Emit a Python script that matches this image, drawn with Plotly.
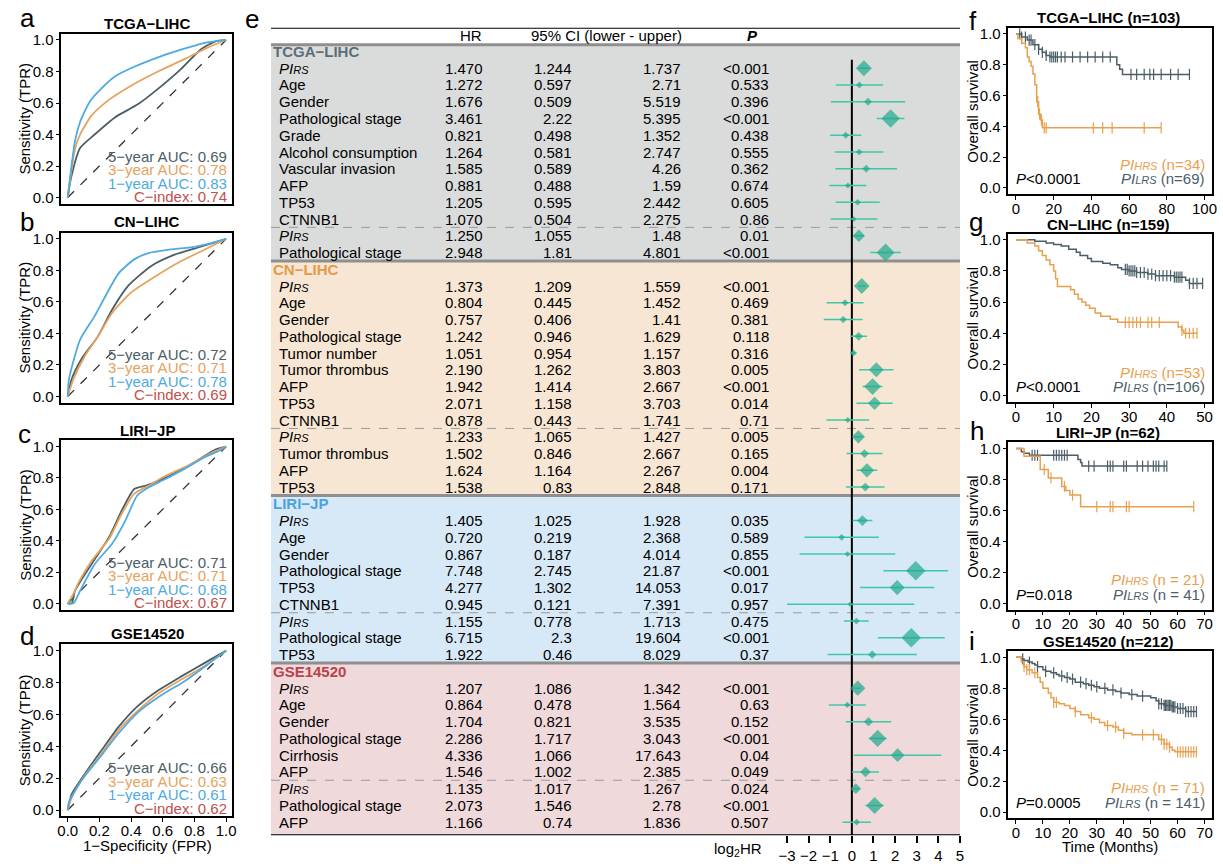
import numpy as np
import plotly.graph_objects as go

W, H = 1223, 864
FONT = "Arial, 'Liberation Sans', Helvetica, sans-serif"

C_5Y, C_3Y, C_1Y, C_CI = "#4b5d66", "#e5a35e", "#4eaae0", "#c0504d"
C_HRS, C_LRS = "#e8a04f", "#4b5e68"
TEAL, TEAL_L = "#1fa88b", "#3fc8a6"

# ---------------- ROC data ----------------
roc_titles = ["TCGA−LIHC", "CN−LIHC", "LIRI−JP", "GSE14520"]
roc_auc_5y = [0.69, 0.72, 0.71, 0.66]
roc_auc_3y = [0.78, 0.71, 0.71, 0.63]
roc_auc_1y = [0.83, 0.78, 0.68, 0.61]
roc_cindex = [0.74, 0.69, 0.67, 0.62]

a_5y_fpr = [0, 0.02, 0.078, 0.17, 0.30, 0.44, 0.57, 0.72, 0.84, 0.93, 1.0]
a_5y_tpr = [0, 0.12, 0.314, 0.40, 0.51, 0.59, 0.69, 0.82, 0.94, 0.99, 1.0]
a_3y_fpr = [0, 0.046, 0.078, 0.15, 0.26, 0.40, 0.57, 0.74, 0.88, 1.0]
a_3y_tpr = [0, 0.31, 0.40, 0.52, 0.62, 0.71, 0.80, 0.88, 0.95, 1.0]
a_1y_fpr = [0, 0.046, 0.078, 0.14, 0.21, 0.30, 0.42, 0.57, 0.72, 0.86, 1.0]
a_1y_tpr = [0, 0.36, 0.48, 0.61, 0.69, 0.77, 0.83, 0.89, 0.94, 0.98, 1.0]

b_5y_fpr = [0, 0.025, 0.088, 0.19, 0.28, 0.38, 0.53, 0.675, 0.84, 1.0]
b_5y_tpr = [0, 0.11, 0.24, 0.38, 0.55, 0.70, 0.83, 0.90, 0.95, 1.0]
b_3y_fpr = [0, 0.036, 0.11, 0.19, 0.28, 0.40, 0.55, 0.70, 0.84, 1.0]
b_3y_tpr = [0, 0.11, 0.26, 0.38, 0.53, 0.66, 0.76, 0.85, 0.92, 1.0]
b_1y_fpr = [0, 0.008, 0.078, 0.17, 0.32, 0.42, 0.51, 0.63, 0.80, 0.93, 1.0]
b_1y_tpr = [0, 0.11, 0.36, 0.51, 0.78, 0.87, 0.91, 0.93, 0.95, 0.98, 1.0]

c_5y_fpr = [0, 0.025, 0.046, 0.15, 0.26, 0.34, 0.42, 0.49, 0.57, 0.675, 0.80, 0.93, 1.0]
c_5y_tpr = [0, 0.0, 0.08, 0.25, 0.42, 0.59, 0.73, 0.75, 0.78, 0.83, 0.90, 0.98, 1.0]
c_3y_fpr = [0, 0.036, 0.067, 0.15, 0.26, 0.34, 0.42, 0.51, 0.61, 0.76, 0.91, 1.0]
c_3y_tpr = [0, 0.06, 0.13, 0.27, 0.41, 0.57, 0.70, 0.75, 0.81, 0.88, 0.96, 1.0]
c_1y_fpr = [0, 0.036, 0.078, 0.17, 0.28, 0.36, 0.44, 0.51, 0.61, 0.74, 0.88, 0.97, 1.0]
c_1y_tpr = [0, 0.0, 0.08, 0.25, 0.38, 0.52, 0.69, 0.74, 0.79, 0.86, 0.94, 0.98, 1.0]

d_5y_fpr = [0, 0.025, 0.11, 0.21, 0.32, 0.44, 0.57, 0.72, 0.86, 1.0]
d_5y_tpr = [0, 0.10, 0.23, 0.37, 0.52, 0.65, 0.75, 0.84, 0.92, 1.0]
d_3y_fpr = [0, 0.025, 0.11, 0.21, 0.32, 0.44, 0.57, 0.72, 0.86, 1.0]
d_3y_tpr = [0, 0.08, 0.22, 0.35, 0.50, 0.62, 0.73, 0.82, 0.90, 1.0]
d_1y_fpr = [0, 0.008, 0.09, 0.21, 0.32, 0.44, 0.59, 0.74, 0.88, 1.0]
d_1y_tpr = [0, 0.05, 0.19, 0.34, 0.48, 0.61, 0.72, 0.81, 0.91, 1.0]

# ---------------- Forest data ----------------
forest_sections = ["TCGA−LIHC", "CN−LIHC", "LIRI−JP", "GSE14520"]

tcga_var = ["PIRS", "Age", "Gender", "Pathological stage", "Grade", "Alcohol consumption",
            "Vascular invasion", "AFP", "TP53", "CTNNB1", "PIRS", "Pathological stage"]
tcga_hr = ["1.470", "1.272", "1.676", "3.461", "0.821", "1.264", "1.585", "0.881", "1.205", "1.070", "1.250", "2.948"]
tcga_lo = ["1.244", "0.597", "0.509", "2.22", "0.498", "0.581", "0.589", "0.488", "0.595", "0.504", "1.055", "1.81"]
tcga_hi = ["1.737", "2.71", "5.519", "5.395", "1.352", "2.747", "4.26", "1.59", "2.442", "2.275", "1.48", "4.801"]
tcga_p = ["<0.001", "0.533", "0.396", "<0.001", "0.438", "0.555", "0.362", "0.674", "0.605", "0.86", "0.01", "<0.001"]
tcga_n_uni = 10

cn_var = ["PIRS", "Age", "Gender", "Pathological stage", "Tumor number", "Tumor thrombus", "AFP", "TP53", "CTNNB1",
          "PIRS", "Tumor thrombus", "AFP", "TP53"]
cn_hr = ["1.373", "0.804", "0.757", "1.242", "1.051", "2.190", "1.942", "2.071", "0.878", "1.233", "1.502", "1.624", "1.538"]
cn_lo = ["1.209", "0.445", "0.406", "0.946", "0.954", "1.262", "1.414", "1.158", "0.443", "1.065", "0.846", "1.164", "0.83"]
cn_hi = ["1.559", "1.452", "1.41", "1.629", "1.157", "3.803", "2.667", "3.703", "1.741", "1.427", "2.667", "2.267", "2.848"]
cn_p = ["<0.001", "0.469", "0.381", "0.118", "0.316", "0.005", "<0.001", "0.014", "0.71", "0.005", "0.165", "0.004", "0.171"]
cn_n_uni = 9

liri_var = ["PIRS", "Age", "Gender", "Pathological stage", "TP53", "CTNNB1", "PIRS", "Pathological stage", "TP53"]
liri_hr = ["1.405", "0.720", "0.867", "7.748", "4.277", "0.945", "1.155", "6.715", "1.922"]
liri_lo = ["1.025", "0.219", "0.187", "2.745", "1.302", "0.121", "0.778", "2.3", "0.46"]
liri_hi = ["1.928", "2.368", "4.014", "21.87", "14.053", "7.391", "1.713", "19.604", "8.029"]
liri_p = ["0.035", "0.589", "0.855", "<0.001", "0.017", "0.957", "0.475", "<0.001", "0.37"]
liri_n_uni = 6

gse_var = ["PIRS", "Age", "Gender", "Pathological stage", "Cirrhosis", "AFP", "PIRS", "Pathological stage", "AFP"]
gse_hr = ["1.207", "0.864", "1.704", "2.286", "4.336", "1.546", "1.135", "2.073", "1.166"]
gse_lo = ["1.086", "0.478", "0.821", "1.717", "1.066", "1.002", "1.017", "1.546", "0.74"]
gse_hi = ["1.342", "1.564", "3.535", "3.043", "17.643", "2.385", "1.267", "2.78", "1.836"]
gse_p = ["<0.001", "0.63", "0.152", "<0.001", "0.04", "0.049", "0.024", "<0.001", "0.507"]
gse_n_uni = 6

# ---------------- KM data ----------------
km_titles = ["TCGA−LIHC (n=103)", "CN−LIHC (n=159)", "LIRI−JP (n=62)", "GSE14520 (n=212)"]
km_pvals = ["&lt;0.0001", "&lt;0.0001", "=0.018", "=0.0005"]
km_hrs_n = ["(n=34)", "(n=53)", "(n = 21)", "(n = 71)"]
km_lrs_n = ["(n=69)", "(n=106)", "(n = 41)", "(n = 141)"]

f_lrs_t = [0, 3, 6, 9, 12, 14, 16, 18, 53.5, 55, 56.5, 92]
f_lrs_s = [1.0, 0.98, 0.96, 0.93, 0.90, 0.88, 0.86, 0.85, 0.80, 0.77, 0.737, 0.737]
f_lrs_c = [2, 3, 5, 7, 8, 10, 12, 14, 16, 18, 19, 20, 21, 22, 24, 26, 30, 34, 38, 42, 46, 50,
           61, 64, 68, 71, 73, 77, 82, 86, 92]
f_hrs_t = [0, 1, 3, 5, 6, 7, 8, 9, 10, 11, 12, 13, 14, 77]
f_hrs_s = [1.0, 0.97, 0.94, 0.91, 0.85, 0.82, 0.79, 0.74, 0.67, 0.56, 0.48, 0.44, 0.39, 0.39]
f_hrs_c = [11.5, 12.5, 13.5, 15, 16, 41, 46, 51, 68, 77]

g_lrs_t = [0, 5, 8, 10, 12, 14, 16, 17, 19, 20, 23, 25, 27, 28, 30, 32, 35, 37, 42, 45, 46, 49.5]
g_lrs_s = [1.0, 0.99, 0.98, 0.97, 0.96, 0.94, 0.92, 0.90, 0.88, 0.86, 0.85, 0.84, 0.82, 0.81, 0.80,
           0.79, 0.78, 0.77, 0.76, 0.74, 0.72, 0.72]
g_lrs_c = [29, 29.5, 30, 30.5, 31, 31.5, 32, 33, 34, 35, 36, 37, 38, 39, 40, 41, 42, 42.5, 43, 43.5,
           44, 46, 47, 48, 49.5]
g_hrs_t = [0, 3, 5, 6, 7, 8, 9, 10, 10.5, 11, 14.5, 15.5, 16.5, 17.5, 18.5, 19.5, 21, 22.5, 25, 27, 43, 44, 44.5, 48]
g_hrs_s = [1.0, 0.98, 0.96, 0.93, 0.90, 0.87, 0.84, 0.80, 0.75, 0.70, 0.68, 0.65, 0.62, 0.60, 0.58,
           0.56, 0.53, 0.51, 0.49, 0.47, 0.44, 0.42, 0.40, 0.40]
g_hrs_c = [29, 30, 31, 32, 33, 35, 36, 38, 44, 45, 46, 47, 48]

h_lrs_t = [0, 2, 3, 5, 23, 24, 24.5, 56]
h_lrs_s = [1.0, 0.98, 0.97, 0.957, 0.93, 0.91, 0.887, 0.887]
h_lrs_c = [6, 7, 8, 14, 15, 16, 17, 18, 19, 27, 29, 34, 35, 36, 40, 41, 45, 47, 49, 51, 52, 53, 55, 56]
h_hrs_t = [0, 3, 9, 12, 17, 18.5, 20, 24, 66]
h_hrs_s = [1.0, 0.95, 0.865, 0.81, 0.755, 0.73, 0.70, 0.625, 0.625]
h_hrs_c = [10.5, 13, 18, 21, 30, 35, 36, 41, 42, 66]

i_lrs_t = [0, 2, 3, 4.5, 6, 7, 8, 10, 11, 13, 15, 16, 18, 20, 22, 25, 27, 29, 31, 34, 37, 39, 42, 45,
           50, 52, 53, 55, 58, 60, 63, 67]
i_lrs_s = [1.0, 0.99, 0.98, 0.97, 0.96, 0.95, 0.94, 0.92, 0.91, 0.90, 0.89, 0.88, 0.87, 0.86, 0.84,
           0.83, 0.82, 0.81, 0.80, 0.79, 0.78, 0.77, 0.76, 0.75, 0.74, 0.72, 0.70, 0.69, 0.68, 0.67,
           0.65, 0.65]
i_lrs_c = [2.5, 5, 8, 11, 14, 17, 19, 21, 24, 26, 28, 30, 33, 36, 39, 43, 47, 53, 54, 55, 55.5, 56,
           56.5, 57, 57.5, 58, 58.5, 59, 60, 61, 62, 63, 64, 65, 66, 67]
i_hrs_t = [0, 2, 3, 4, 6, 8, 9, 10, 12, 13, 14, 16, 18, 20, 22, 24, 27, 29, 31, 33, 36, 38, 40, 43,
           53, 55, 57, 58, 59, 67]
i_hrs_s = [1.0, 0.97, 0.94, 0.92, 0.90, 0.87, 0.84, 0.80, 0.77, 0.74, 0.71, 0.70, 0.69, 0.67, 0.65,
           0.63, 0.61, 0.60, 0.58, 0.56, 0.55, 0.53, 0.51, 0.50, 0.47, 0.44, 0.42, 0.40, 0.39, 0.39]
i_hrs_c = [3, 4, 5, 7, 14, 15, 22, 28, 34, 37, 40, 47, 51, 54, 55, 56, 57, 60, 61, 62, 63, 64, 65, 66, 67]

# =====================================================================
def X(px):
    return px / W


def Y(py):
    return 1 - py / H


fig = go.Figure()
annotations = []
shapes = []
layout = dict(width=W, height=H, margin=dict(l=0, r=0, t=0, b=0), paper_bgcolor="white",
              plot_bgcolor="rgba(0,0,0,0)", showlegend=False,
              font=dict(family=FONT, size=15, color="black"))


def ann(text, x, y, xref="paper", yref="paper", size=15, color="black", xanchor="center",
        yanchor="middle", textangle=0):
    annotations.append(dict(text=text, x=x, y=y, xref=xref, yref=yref, showarrow=False,
                            font=dict(size=size, color=color, family=FONT), xanchor=xanchor,
                            yanchor=yanchor, textangle=textangle, borderpad=0))


def axname(i):
    return ("x", "y") if i == 1 else (f"x{i}", f"y{i}")


def box_axis(**kw):
    d = dict(showline=True, mirror=True, linecolor="black", linewidth=1.5, showgrid=False,
             zeroline=False, ticklen=4, tickwidth=1.2, tickcolor="black", tickfont=dict(size=15))
    d.update(kw)
    return d


# panel letters
letters = [("a", 10, 15), ("b", 10, 221), ("c", 8, 436), ("d", 10, 640), ("e", 238, 16),
           ("f", 970, 18), ("g", 970, 221), ("h", 971, 432), ("i", 970, 645)]
for t, px, py in letters:
    ann(t, X(px), Y(py), size=26, xanchor="left")

# ---------------- ROC panels ----------------
roc_data = [
    (a_5y_fpr, a_5y_tpr, a_3y_fpr, a_3y_tpr, a_1y_fpr, a_1y_tpr),
    (b_5y_fpr, b_5y_tpr, b_3y_fpr, b_3y_tpr, b_1y_fpr, b_1y_tpr),
    (c_5y_fpr, c_5y_tpr, c_3y_fpr, c_3y_tpr, c_1y_fpr, c_1y_tpr),
    (d_5y_fpr, d_5y_tpr, d_3y_fpr, d_3y_tpr, d_1y_fpr, d_1y_tpr),
]
roc_dom_y = [(31, 203), (232, 404), (442, 613), (648, 822)]
roc_title_y = [21, 221, 432, 637]
roc_text_y = [155, 355, 565, 773]
ticks01 = [0, 0.2, 0.4, 0.6, 0.8, 1.0]
tick01_txt = ["0.0", "0.2", "0.4", "0.6", "0.8", "1.0"]

for k in range(4):
    idx = k + 1
    xa, ya = axname(idx)
    f5, t5, f3, t3, f1, t1 = roc_data[k]
    fig.add_trace(go.Scatter(x=[0, 1], y=[0, 1], mode="lines", xaxis=xa, yaxis=ya,
                             line=dict(color="#333333", width=1.3, dash="dash")))
    for fx, ty, col in [(f5, t5, C_5Y), (f3, t3, C_3Y), (f1, t1, C_1Y)]:
        fig.add_trace(go.Scatter(x=fx, y=ty, mode="lines", xaxis=xa, yaxis=ya,
                                 line=dict(color=col, width=1.8, shape="spline", smoothing=0.6)))
    top, bot = roc_dom_y[k]
    layout["xaxis" if idx == 1 else f"xaxis{idx}"] = box_axis(
        domain=[X(53), X(226)], range=[-0.04, 1.04], anchor=ya, tickvals=ticks01, ticktext=tick01_txt,
        ticks="outside" if k == 3 else "", showticklabels=(k == 3), ticklabelstandoff=-4)
    layout["yaxis" if idx == 1 else f"yaxis{idx}"] = box_axis(
        domain=[Y(bot), Y(top)], range=[-0.04, 1.04], anchor=xa, tickvals=ticks01, ticktext=tick01_txt,
        ticks="outside", ticklabelstandoff=-1)
    ann(f"<b>{roc_titles[k]}</b>", X(140), Y(roc_title_y[k]))
    ann("Sensitivity (TPR)", X(16), Y((top + bot) / 2), textangle=-90)
    lines = [(f"5−year AUC: {roc_auc_5y[k]:.2f}", C_5Y), (f"3−year AUC: {roc_auc_3y[k]:.2f}", C_3Y),
             (f"1−year AUC: {roc_auc_1y[k]:.2f}", C_1Y), (f"C−index: {roc_cindex[k]:.2f}", C_CI)]
    for j, (txt, col) in enumerate(lines):
        ann(txt, X(222), Y(roc_text_y[k] + j * 13.6), color=col, xanchor="right")
ann("1−Specificity (FPR)", X(140), Y(851))

# ---------------- Forest panel ----------------
ROW0, ROWH = 49, 16.93

r_top = (25 - ROW0) / ROWH
r_bot = (841 - ROW0) / ROWH
FX0, FX1 = 265, 962
section_colors = ["#5b6e78", "#e39a4a", "#4aa3df", "#b8434b"]
section_bg = ["#dadcdc", "#f7e6d3", "#d7e9f7", "#efd9db"]
sec_data = [
    (tcga_var, tcga_hr, tcga_lo, tcga_hi, tcga_p, tcga_n_uni),
    (cn_var, cn_hr, cn_lo, cn_hi, cn_p, cn_n_uni),
    (liri_var, liri_hr, liri_lo, liri_hi, liri_p, liri_n_uni),
    (gse_var, gse_hr, gse_lo, gse_hi, gse_p, gse_n_uni),
]


def label_html(v):
    if v == "PIRS":
        return "<i>PI<span style='font-size:11px'>RS</span></i>"
    return v


pt_x, pt_y, pt_lo, pt_hi, pt_size = [], [], [], [], []
row = 0
header_rows = []
dashed_rows = []
for s, (var, hr, lo, hi, p, nuni) in enumerate(sec_data):
    header_rows.append(row)
    ann(f"<b>{forest_sections[s]}</b>", X(FX0 + 1), row, yref="y5",
        color=section_colors[s], xanchor="left")
    row += 1
    for j in range(len(var)):
        r = row + j
        if j == nuni:
            dashed_rows.append(r - 0.5)
        ann(label_html(var[j]), X(272), r, yref="y5", xanchor="left")
        ann(hr[j], X(481), r, yref="y5", xanchor="right")
        ann(lo[j], X(571), r, yref="y5", xanchor="right")
        ann(hi[j], X(681), r, yref="y5", xanchor="right")
        ann(p[j].replace("<", "&lt;"), X(770), r, yref="y5", xanchor="right")
        h, l, u = float(hr[j]), float(lo[j]), float(hi[j])
        pv = float(p[j].replace("<", ""))
        lh = np.log2(h)
        pt_x.append(lh)
        pt_y.append(r)
        pt_lo.append(lh - np.log2(l))
        pt_hi.append(np.log2(u) - lh)
        pt_size.append(min(15.0, 4 + 2.5 * min(-np.log10(pv), 3.0) + 1.5 * abs(lh)))
    row += len(var)

# backgrounds
bounds = [-0.4] + [hr_ - 0.5 for hr_ in header_rows[1:]] + [r_bot]
for s in range(4):
    shapes.append(dict(type="rect", xref="paper", yref="y5", x0=X(FX0), x1=X(FX1),
                       y0=bounds[s], y1=bounds[s + 1], fillcolor=section_bg[s], line=dict(width=0),
                       layer="below"))
for b in bounds[1:4]:
    shapes.append(dict(type="line", xref="paper", yref="y5", x0=X(FX0), x1=X(FX1), y0=b, y1=b,
                       line=dict(color="#8f8f8f", width=3), layer="below"))
for b in dashed_rows:
    shapes.append(dict(type="line", xref="paper", yref="y5", x0=X(FX0), x1=X(FX1), y0=b, y1=b,
                       line=dict(color="#9a9a9a", width=1, dash="dash"), layer="below"))
shapes.append(dict(type="line", xref="paper", yref="y5", x0=X(FX0), x1=X(FX1), y0=-0.4, y1=-0.4,
                   line=dict(color="#8f8f8f", width=3), layer="below"))
shapes.append(dict(type="line", xref="paper", yref="y5", x0=X(FX0), x1=X(FX1), y0=r_top, y1=r_top,
                   line=dict(color="black", width=2), layer="below"))
shapes.append(dict(type="line", xref="paper", yref="y5", x0=X(FX0), x1=X(FX1), y0=r_bot, y1=r_bot,
                   line=dict(color="black", width=2), layer="below"))
shapes.append(dict(type="line", xref="x5", yref="y5", x0=0, x1=0, y0=0.5, y1=r_bot,
                   line=dict(color="black", width=2), layer="below"))

# header
hdr_r = (33 - ROW0) / ROWH
ann("HR", X(467), hdr_r, yref="y5")
ann("95% CI (lower - upper)", X(604), hdr_r, yref="y5")
ann("<b><i>P</i></b>", X(752), hdr_r, yref="y5")
ann("log<sub>2</sub>HR", X(737), Y(855))

fig.add_trace(go.Scatter(
    x=pt_x, y=pt_y, mode="markers", xaxis="x5", yaxis="y5", cliponaxis=False,
    marker=dict(symbol="diamond", size=pt_size, color=TEAL, line=dict(width=0)),
    error_x=dict(type="data", symmetric=False, array=pt_hi, arrayminus=pt_lo, color=TEAL_L,
                 thickness=1.5, width=0)))
layout["xaxis5"] = dict(domain=[X(787), X(962)], range=[-3, 5], anchor="y5", showline=False,
                        showgrid=False, zeroline=False, ticks="outside", ticklen=7, tickwidth=2,
                        tickcolor="black", tickvals=list(range(-3, 6)), tickfont=dict(size=15))
layout["yaxis5"] = dict(domain=[Y(841), Y(25)], range=[r_bot, r_top], anchor="x5", visible=False)

# ---------------- KM panels ----------------
km_data = [
    (f_hrs_t, f_hrs_s, f_hrs_c, f_lrs_t, f_lrs_s, f_lrs_c),
    (g_hrs_t, g_hrs_s, g_hrs_c, g_lrs_t, g_lrs_s, g_lrs_c),
    (h_hrs_t, h_hrs_s, h_hrs_c, h_lrs_t, h_lrs_s, h_lrs_c),
    (i_hrs_t, i_hrs_s, i_hrs_c, i_lrs_t, i_lrs_s, i_lrs_c),
]
km_dom_y = [(25, 193), (233, 403), (444, 613), (655, 824)]
km_xrange = [(-4, 104), (-2, 52), (-2.8, 72.8), (-2.8, 72.8)]
km_xticks = [[0, 20, 40, 60, 80, 100], [0, 10, 20, 30, 40, 50], list(range(0, 71, 10)), list(range(0, 71, 10))]
km_title_y = [15, 224, 434, 645]
km_text_y = [163, 373, 583, 793]


def step_at(ts, ss, t):
    i = np.searchsorted(np.array(ts), t, side="right") - 1
    return ss[max(i, 0)]


for k in range(4):
    idx = k + 6
    xa, ya = axname(idx)
    ht, hs, hc, lt, ls, lc = km_data[k]
    for ts, ss, cs, col in [(lt, ls, lc, C_LRS), (ht, hs, hc, C_HRS)]:
        fig.add_trace(go.Scatter(x=ts, y=ss, mode="lines", xaxis=xa, yaxis=ya,
                                 line=dict(color=col, width=1.5, shape="hv")))
        fig.add_trace(go.Scatter(x=cs, y=[step_at(ts, ss, c) for c in cs], mode="markers",
                                 xaxis=xa, yaxis=ya,
                                 marker=dict(symbol="line-ns-open", size=8, color=col,
                                             line=dict(width=1.2, color=col))))
    top, bot = km_dom_y[k]
    layout[f"xaxis{idx}"] = box_axis(domain=[X(1011), X(1217)], range=list(km_xrange[k]), anchor=ya,
                                     tickvals=km_xticks[k], ticks="outside", ticklabelstandoff=-4)
    layout[f"yaxis{idx}"] = box_axis(domain=[Y(bot), Y(top)], range=[-0.04, 1.04], anchor=xa,
                                     tickvals=ticks01, ticktext=tick01_txt, ticks="outside",
                                     ticklabelstandoff=-1)
    ann(f"<b>{km_titles[k]}</b>", X(1112), Y(km_title_y[k]))
    ann("Overall survival", X(975), Y((top + bot) / 2), textangle=-90)
    ty = km_text_y[k]
    ann(f"<i>PI<span style='font-size:11px'>HRS</span></i> {km_hrs_n[k]}", X(1211), Y(ty),
        color=C_HRS, xanchor="right")
    ann(f"<i>PI<span style='font-size:11px'>LRS</span></i> {km_lrs_n[k]}", X(1211), Y(ty + 14.5),
        color=C_LRS, xanchor="right")
    ann(f"<i>P</i>{km_pvals[k]}", X(1018), Y(ty + 14.5), xanchor="left")
ann("Time (Months)", X(1114), Y(852))

layout["annotations"] = annotations
layout["shapes"] = shapes
fig.update_layout(**layout)
fig.write_html("out.html", config={"displayModeBar": False},
               post_script="document.body.style.margin='0px';document.body.style.padding='0px';"
                           "document.body.style.overflow='hidden';")
